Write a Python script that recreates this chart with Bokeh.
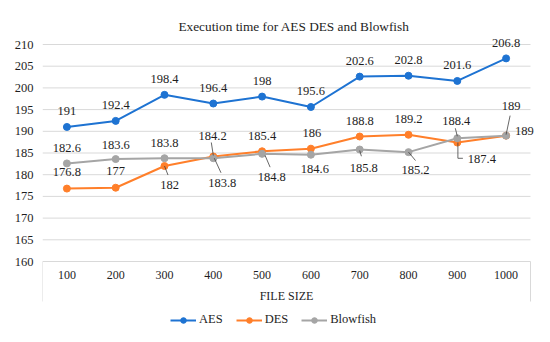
from bokeh.plotting import figure
from bokeh.models import Range1d, FixedTicker, Legend, LegendItem
from bokeh.core.properties import value
from bokeh.embed import file_html
from bokeh.resources import INLINE

# ---------------- data ----------------
file_sizes = ["100", "200", "300", "400", "500", "600", "700", "800", "900", "1000"]
aes = [191, 192.4, 198.4, 196.4, 198, 195.6, 202.6, 202.8, 201.6, 206.8]
des = [176.8, 177, 182, 184.2, 185.4, 186, 188.8, 189.2, 187.4, 189]
blowfish = [182.6, 183.6, 183.8, 183.8, 184.8, 184.6, 185.8, 185.2, 188.4, 189]
y_ticks = [160, 165, 170, 175, 180, 185, 190, 195, 200, 205, 210]
series_names = ["AES", "DES", "Blowfish"]
title_text = "Execution time for AES DES and Blowfish"
x_title = "FILE SIZE"

# ---------------- style / layout ----------------
colors = ["#1E73D2", "#FF7F2A", "#A5A5A5"]
FONT = "Liberation Serif"
TXT = "#1E1E1E"
GRID = "#D9D9D9"

W, H = 550, 342
BL, BR, BT, BB = 42, 5, 37, 6            # canvas frame borders
PLOT_L, PLOT_R, PLOT_T, PLOT_B = 42, 530, 44, 261  # visible plot area (px)
n = len(file_sizes)
y0, y1 = y_ticks[0], y_ticks[-1]
px_x = (PLOT_R - PLOT_L) / n
px_y = (PLOT_B - PLOT_T) / (y1 - y0)
frame_w = W - BL - BR
x_end = frame_w / px_x
y_top = y1 + (PLOT_T - BT) / px_y
y_bot = y0 - ((H - BB) - PLOT_B) / px_y

# label offsets in pixels (dx right, dy down), per series
label_off = [
    [(0, -15.5)] * 10,
    [(0, -16.5), (0, -16.5), (5, 19), (-0.7, -20), (0, -15.5), (1, -16),
     (0, -16), (0, -16), (24.6, 16.3), (18.3, -5)],
    [(0, -15), (0, -14.5), (0, -15), (9, 25), (9.7, 23.3), (4, 14),
     (4, 18.3), (7, 17.7), (-1, -17), (5, -29.3)],
]
# leader lines as pixel offset polylines, per series {index: [...]}
leaders = [
    {},
    {2: [(0, 0), (3.5, 9)], 3: [(0, -1), (-2, -14)],
     8: [(0.6, 0), (0.6, 15.7), (5.6, 15.7)]},
    {3: [(1, 0), (7.7, 14.6)], 4: [(3, 1.6), (8, 13.3)], 6: [(0, 1), (1.7, 6.7)],
     7: [(0, 0), (7, 8.4)], 8: [(0, -2), (-2, -10)], 9: [(0, -1), (4, -20)]},
]

xs = [i + 0.5 for i in range(n)]

p = figure(width=W, height=H, output_backend="svg", toolbar_location=None,
           x_range=Range1d(0, x_end), y_range=Range1d(y_bot, y_top),
           min_border_left=BL, min_border_right=BR, min_border_top=BT,
           min_border_bottom=BB, title=title_text)
p.outline_line_color = None
p.background_fill_color = "white"
p.border_fill_color = "white"
p.styles = {"outline": "1px solid #D9D9D9", "outline-offset": "-4px"}

p.title.align = "center"
p.title.text_font = FONT
p.title.text_font_size = "13.3px"
p.title.text_font_style = "normal"
p.title.text_color = TXT
p.title.standoff = 8

# y axis (real axis, labels only)
p.yaxis.ticker = FixedTicker(ticks=y_ticks)
p.yaxis.axis_line_color = None
p.yaxis.major_tick_line_color = None
p.yaxis.minor_tick_line_color = None
p.yaxis.major_tick_out = 0
p.yaxis.major_tick_in = 0
p.yaxis.major_label_standoff = 9
p.yaxis.major_label_text_font = FONT
p.yaxis.major_label_text_font_size = "12.5px"
p.yaxis.major_label_text_color = TXT

p.xaxis.visible = False
p.xgrid.grid_line_color = None
p.ygrid.grid_line_color = None

# horizontal gridlines (and bottom axis line) over the category span
p.segment(x0=[0] * len(y_ticks), x1=[n] * len(y_ticks), y0=y_ticks, y1=y_ticks,
          line_color=GRID, line_width=1)
# category-axis end dividers
div_len = 40 / px_y
p.segment(x0=[0, n], x1=[0, n], y0=[y0, y0], y1=[y0 - div_len] * 2,
          line_color=GRID, line_width=1)

all_series = [aes, des, blowfish]
items = []
for name, vals, c in zip(series_names, all_series, colors):
    ln = p.line(xs, vals, line_color=c, line_width=2)
    sc = p.scatter(xs, vals, size=7, fill_color=c, line_color=c)
    items.append(LegendItem(label=name, renderers=[ln, sc]))

# leader lines
lx, ly = [], []
for vals, lead in zip(all_series, leaders):
    for i, pts in lead.items():
        lx.append([xs[i] + dx / px_x for dx, dy in pts])
        ly.append([vals[i] - dy / px_y for dx, dy in pts])
p.multi_line(lx, ly, line_color="#404040", line_width=0.8)

# data labels
tx, ty, tt = [], [], []
for vals, offs in zip(all_series, label_off):
    for i, v in enumerate(vals):
        dx, dy = offs[i]
        tx.append(xs[i] + dx / px_x)
        ty.append(v - dy / px_y)
        tt.append(f"{v:g}")
p.text(tx, ty, text=tt, text_align="center", text_baseline="middle",
       text_font=value(FONT), text_font_size="12.5px", text_color=TXT)

# category tick labels and axis title
p.text(xs, [y0 - 13 / px_y] * n, text=file_sizes, text_align="center",
       text_baseline="middle", text_font=value(FONT),
       text_font_size="12px", text_color=TXT)
p.text([n / 2], [y0 - 34 / px_y], text=[x_title], text_align="center",
       text_baseline="middle", text_font=value(FONT),
       text_font_size="12px", text_color=TXT)

legend = Legend(items=items, orientation="horizontal",
                location=(128, (H - BB) - 327),
                border_line_color=None, background_fill_alpha=0,
                label_text_font=FONT, label_text_font_size="12.5px",
                label_text_color=TXT, glyph_width=26, glyph_height=14,
                label_standoff=3, spacing=13, padding=0, margin=0)
p.add_layout(legend, "center")

open("out.html", "w").write(file_html(p, INLINE))
